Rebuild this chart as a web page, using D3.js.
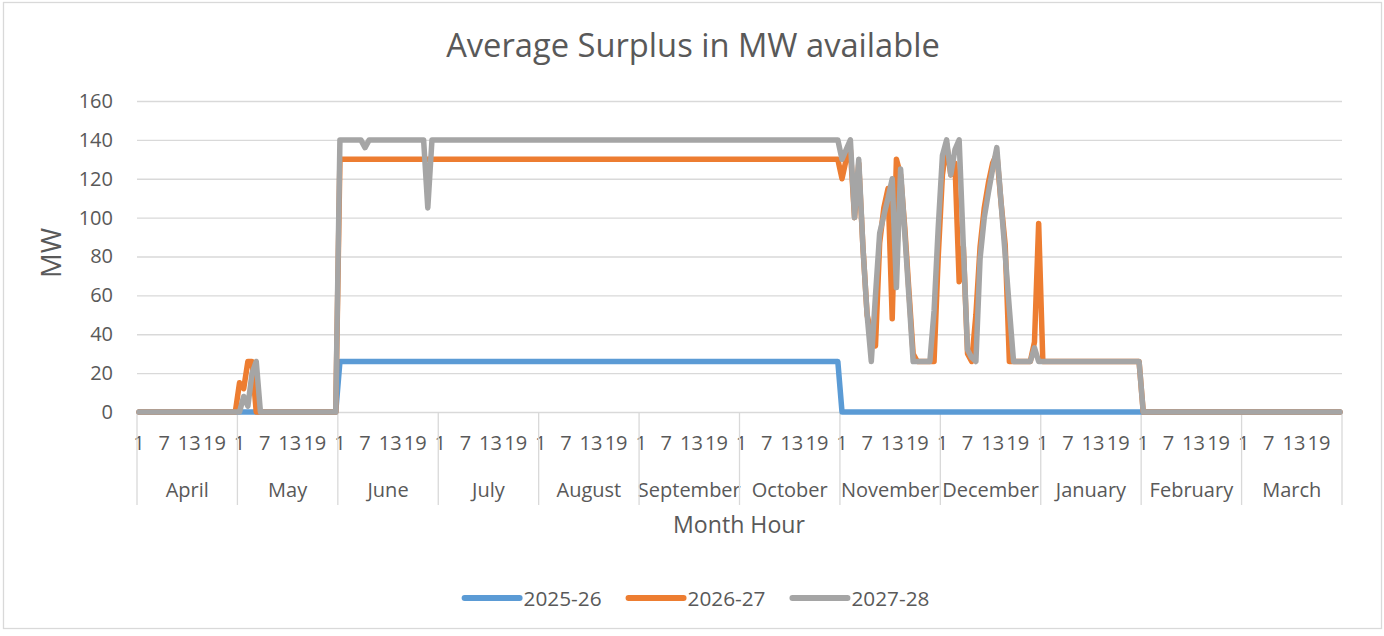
<!DOCTYPE html>
<html>
<head>
<meta charset="utf-8">
<script src="https://cdn.jsdelivr.net/npm/d3@7"></script>
<style>
  body { margin: 0; background: #fff; }
  svg { display: block; }
  text { font-family: "Open Sans", "Noto Sans", sans-serif; fill: #595959; }
</style>
</head>
<body>
<svg id="chart" width="1384" height="636"></svg>
<script>
// ---------------- DATA ----------------
const title = "Average Surplus in MW available";
const xTitle = "Month Hour";
const yTitle = "MW";
const months = ["April","May","June","July","August","September","October","November","December","January","February","March"];
const hours = [1,2,3,4,5,6,7,8,9,10,11,12,13,14,15,16,17,18,19,20,21,22,23,24];
const hourTickLabels = [1, 7, 13, 19];
const yTicks = [0, 20, 40, 60, 80, 100, 120, 140, 160];
const seriesNames = ["2025-26", "2026-27", "2027-28"];

// 24 hourly values per month, April .. March
const values2025_26 = [
  [0,0,0,0,0,0,0,0,0,0,0,0,0,0,0,0,0,0,0,0,0,0,0,0],
  [0,0,0,0,0,0,0,0,0,0,0,0,0,0,0,0,0,0,0,0,0,0,0,0],
  [26,26,26,26,26,26,26,26,26,26,26,26,26,26,26,26,26,26,26,26,26,26,26,26],
  [26,26,26,26,26,26,26,26,26,26,26,26,26,26,26,26,26,26,26,26,26,26,26,26],
  [26,26,26,26,26,26,26,26,26,26,26,26,26,26,26,26,26,26,26,26,26,26,26,26],
  [26,26,26,26,26,26,26,26,26,26,26,26,26,26,26,26,26,26,26,26,26,26,26,26],
  [26,26,26,26,26,26,26,26,26,26,26,26,26,26,26,26,26,26,26,26,26,26,26,26],
  [0,0,0,0,0,0,0,0,0,0,0,0,0,0,0,0,0,0,0,0,0,0,0,0],
  [0,0,0,0,0,0,0,0,0,0,0,0,0,0,0,0,0,0,0,0,0,0,0,0],
  [0,0,0,0,0,0,0,0,0,0,0,0,0,0,0,0,0,0,0,0,0,0,0,0],
  [0,0,0,0,0,0,0,0,0,0,0,0,0,0,0,0,0,0,0,0,0,0,0,0],
  [0,0,0,0,0,0,0,0,0,0,0,0,0,0,0,0,0,0,0,0,0,0,0,0]
];
const values2026_27 = [
  [0,0,0,0,0,0,0,0,0,0,0,0,0,0,0,0,0,0,0,0,0,0,0,0],
  [15,12,26,26,0,0,0,0,0,0,0,0,0,0,0,0,0,0,0,0,0,0,0,0],
  [130,130,130,130,130,130,130,130,130,130,130,130,130,130,130,130,130,130,130,130,130,130,130,130],
  [130,130,130,130,130,130,130,130,130,130,130,130,130,130,130,130,130,130,130,130,130,130,130,130],
  [130,130,130,130,130,130,130,130,130,130,130,130,130,130,130,130,130,130,130,130,130,130,130,130],
  [130,130,130,130,130,130,130,130,130,130,130,130,130,130,130,130,130,130,130,130,130,130,130,130],
  [130,130,130,130,130,130,130,130,130,130,130,130,130,130,130,130,130,130,130,130,130,130,130,130],
  [120,130,135,100,128,85,50,40,34,87,105,115,48,130,122,95,62,30,26,26,26,26,26,80],
  [122,138,122,128,67,85,30,26,50,85,105,118,128,133,108,86,26,26,26,26,26,26,36,97],
  [26,26,26,26,26,26,26,26,26,26,26,26,26,26,26,26,26,26,26,26,26,26,26,26],
  [0,0,0,0,0,0,0,0,0,0,0,0,0,0,0,0,0,0,0,0,0,0,0,0],
  [0,0,0,0,0,0,0,0,0,0,0,0,0,0,0,0,0,0,0,0,0,0,0,0]
];
const values2027_28 = [
  [0,0,0,0,0,0,0,0,0,0,0,0,0,0,0,0,0,0,0,0,0,0,0,0],
  [0,8,3,20,26,0,0,0,0,0,0,0,0,0,0,0,0,0,0,0,0,0,0,0],
  [140,140,140,140,140,140,136,140,140,140,140,140,140,140,140,140,140,140,140,140,140,105,140,140],
  [140,140,140,140,140,140,140,140,140,140,140,140,140,140,140,140,140,140,140,140,140,140,140,140],
  [140,140,140,140,140,140,140,140,140,140,140,140,140,140,140,140,140,140,140,140,140,140,140,140],
  [140,140,140,140,140,140,140,140,140,140,140,140,140,140,140,140,140,140,140,140,140,140,140,140],
  [140,140,140,140,140,140,140,140,140,140,140,140,140,140,140,140,140,140,140,140,140,140,140,140],
  [130,135,140,100,130,85,50,26,60,92,101,110,120,64,125,92,59,26,26,26,26,26,52,95],
  [132,140,122,135,140,85,32,28,26,79,100,113,125,136,108,81,53,26,26,26,26,26,33,26],
  [26,26,26,26,26,26,26,26,26,26,26,26,26,26,26,26,26,26,26,26,26,26,26,26],
  [0,0,0,0,0,0,0,0,0,0,0,0,0,0,0,0,0,0,0,0,0,0,0,0],
  [0,0,0,0,0,0,0,0,0,0,0,0,0,0,0,0,0,0,0,0,0,0,0,0]
];

// ---------------- STYLE / LAYOUT ----------------
const colors = ["#5B9BD5", "#ED7D31", "#A5A5A5"];
const plot = { left: 137, right: 1342, top: 101, bottom: 412 };
const gridColor = "#D9D9D9";
const lineWidth = 5.5;

const svg = d3.select("#chart");

// outer border
svg.append("rect")
  .attr("x", 3.5).attr("y", 2.5).attr("width", 1378).attr("height", 626)
  .attr("fill", "#fff").attr("stroke", gridColor).attr("stroke-width", 1.3);

function fit(sel, target, base = 20) {
  sel.style("font-size", base + "px");
  const w = sel.node().getComputedTextLength();
  sel.style("font-size", (base * target / w).toFixed(2) + "px");
  return sel;
}

// flatten data
const flat = [values2025_26, values2026_27, values2027_28].map(s => s.flat());
const N = months.length * hours.length;

// scales
const x = d3.scaleBand().domain(d3.range(N)).range([plot.left, plot.right]).padding(0);
const xc = i => x(i) + x.bandwidth() / 2;
const xm = d3.scaleBand().domain(months).range([plot.left, plot.right]).padding(0);
const y = d3.scaleLinear().domain([0, 160]).range([plot.bottom, plot.top]);

// title
fit(svg.append("text").attr("x", 693).attr("y", 57).attr("text-anchor", "middle").text(title), 494, 28);

// y axis with gridlines
const yAxis = svg.append("g").attr("transform", `translate(${plot.left},0)`)
  .call(d3.axisLeft(y).tickValues(yTicks).tickSizeInner(-(plot.right - plot.left)).tickSizeOuter(0).tickPadding(24));
yAxis.select(".domain").remove();
yAxis.selectAll(".tick line").attr("stroke", gridColor).attr("stroke-width", 1.3);
yAxis.selectAll(".tick text").style("font-size", "20px").attr("fill", "#595959").attr("font-family", null);

// y title
const yt = svg.append("text").attr("text-anchor", "middle")
  .attr("transform", "translate(61,253) rotate(-90)").text(yTitle);
fit(yt, 50, 24);

// x axis: hour labels
const hourIdx = d3.range(N).filter(i => hourTickLabels.includes(hours[i % 24]));
const xAxis = svg.append("g").attr("transform", `translate(0,${plot.bottom})`)
  .call(d3.axisBottom(x).tickValues(hourIdx).tickFormat(i => hours[i % 24]).tickSize(0));
xAxis.select(".domain").remove();
xAxis.selectAll(".tick text").attr("dy", null).attr("y", 38).style("font-size", "20px").attr("fill", "#595959").attr("font-family", null);

// month group labels
const mAxis = svg.append("g").attr("transform", `translate(0,${plot.bottom})`)
  .call(d3.axisBottom(xm).tickSize(0));
mAxis.select(".domain").remove();
mAxis.selectAll(".tick text").attr("dy", null).attr("y", 85).style("font-size", "20px").attr("fill", "#595959").attr("font-family", null);

// month dividers
const boundaries = months.map(m => xm(m)).concat([plot.right]);
svg.append("g").selectAll("line").data(boundaries).join("line")
  .attr("x1", d => d).attr("x2", d => d)
  .attr("y1", plot.bottom).attr("y2", 505)
  .attr("stroke", gridColor).attr("stroke-width", 1.3);

// x title
fit(svg.append("text").attr("x", 739).attr("y", 533).attr("text-anchor", "middle").text(xTitle), 132, 24);

// series lines
const line = d3.line().x((d, i) => xc(i)).y(d => y(d));
svg.append("g").selectAll("path").data(flat).join("path")
  .attr("d", d => line(d))
  .attr("fill", "none")
  .attr("stroke", (d, i) => colors[i])
  .attr("stroke-width", lineWidth)
  .attr("stroke-linejoin", "round")
  .attr("stroke-linecap", "round");

// legend
const lg = svg.append("g");
const lineLen = 55, gap = 4, itemGap = 27;
let cx = 0;
seriesNames.forEach((name, i) => {
  const g = lg.append("g");
  g.append("line").attr("x1", 0).attr("x2", lineLen).attr("y1", 598).attr("y2", 598)
    .attr("stroke", colors[i]).attr("stroke-width", lineWidth + 0.5).attr("stroke-linecap", "round");
  const t = g.append("text").attr("x", lineLen + gap).attr("y", 606).text(name);
  fit(t, 78, 21);
  const w = lineLen + gap + t.node().getComputedTextLength();
  g.attr("transform", `translate(${cx},0)`);
  cx += w + itemGap;
});
const total = cx - itemGap;
lg.attr("transform", `translate(${697 - total / 2},0)`);
</script>
</body>
</html>
